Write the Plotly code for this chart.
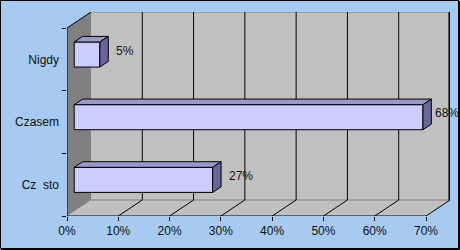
import plotly.graph_objects as go

# ---- data ----
categories = ["Nigdy", "Czasem", "Cz\u00a0\u00a0sto"]   # top to bottom
values = [5, 68, 27]
value_labels = ["5%", "68%", "27%"]
x_ticks = [0, 10, 20, 30, 40, 50, 60, 70]
x_tick_labels = ["0%", "10%", "20%", "30%", "40%", "50%", "60%", "70%"]

# ---- geometry / style ----
W, H = 460, 250
ML, MR, MT, MB = 67, 10, 12, 34
DEPTH_PX_X, DEPTH_PX_Y = 24, 16
XMAX = 70
plot_w = W - ML - MR
plot_h = H - MT - MB
px_x = (plot_w - DEPTH_PX_X) / XMAX
ncat = len(categories)
px_y = (plot_h - DEPTH_PX_Y) / ncat
DX = DEPTH_PX_X / px_x
DY = DEPTH_PX_Y / px_y
F0, F1 = 0.3, 0.65      # bar depth placement (fraction of wall depth)
BAR_H = 0.4

BG = "#A6CAF0"
WALL = "#C0C0C0"
SIDE = "#808080"
FRONT = "#CCCCFF"
TOP = "#9999CC"
RIGHT = "#666699"
FONT = dict(family="Liberation Sans, Arial, sans-serif", size=12, color="#111111")

# category positions bottom -> top
cats_bt = categories[::-1]
vals_bt = values[::-1]
labs_bt = value_labels[::-1]
yc = [i + 0.5 + F0 * DY for i in range(ncat)]
x0 = F0 * DX
bdx, bdy = (F1 - F0) * DX, (F1 - F0) * DY

shapes = []
# back wall
shapes.append(dict(type="rect", xref="x", yref="y", x0=DX, x1=XMAX + DX, y0=DY, y1=ncat + DY,
                   fillcolor=WALL, line=dict(width=0), layer="below"))
# floor
shapes.append(dict(type="path", xref="x", yref="y",
                   path=f"M 0,0 L {XMAX},0 L {XMAX+DX},{DY} L {DX},{DY} Z",
                   fillcolor=WALL, line=dict(width=0), layer="below"))
# side wall
shapes.append(dict(type="path", xref="x", yref="y",
                   path=f"M 0,0 L 0,{ncat} L {DX},{ncat+DY} L {DX},{DY} Z",
                   fillcolor=SIDE, line=dict(width=0), layer="below"))
# back wall top & floor back edge (gray)
shapes.append(dict(type="line", xref="x", yref="y", x0=DX, x1=XMAX + DX, y0=ncat + DY, y1=ncat + DY,
                   line=dict(color=SIDE, width=1), layer="below"))
shapes.append(dict(type="line", xref="x", yref="y", x0=DX, x1=XMAX + DX, y0=DY, y1=DY,
                   line=dict(color=SIDE, width=1), layer="below"))
# gridlines on wall and floor
for t in x_ticks[1:]:
    if t < XMAX:
        shapes.append(dict(type="line", xref="x", yref="y", x0=t + DX, x1=t + DX, y0=DY, y1=ncat + DY,
                           line=dict(color="black", width=1), layer="below"))
    shapes.append(dict(type="line", xref="x", yref="y", x0=t, x1=t + DX, y0=0, y1=DY,
                       line=dict(color="black", width=1), layer="below"))
# right wall edge
shapes.append(dict(type="line", xref="x", yref="y", x0=XMAX + DX - 0.15, x1=XMAX + DX - 0.15, y0=DY, y1=ncat + DY,
                   line=dict(color="black", width=1.5), layer="below"))
# side wall front edges
shapes.append(dict(type="line", xref="x", yref="y", x0=0, x1=0, y0=0, y1=ncat,
                   line=dict(color="black", width=1), layer="below"))
shapes.append(dict(type="line", xref="x", yref="y", x0=0, x1=DX, y0=ncat, y1=ncat + DY,
                   line=dict(color="black", width=1), layer="below"))
# front axis line
shapes.append(dict(type="line", xref="x", yref="y", x0=0, x1=XMAX, y0=0, y1=0,
                   line=dict(color="black", width=1), layer="below"))

# bar top & side faces
for y, v in zip(yc, vals_bt):
    yt, yb = y + BAR_H / 2, y - BAR_H / 2
    x1 = x0 + v
    shapes.append(dict(type="path", xref="x", yref="y",
                       path=f"M {x0},{yt} L {x0+bdx},{yt+bdy} L {x1+bdx},{yt+bdy} L {x1},{yt} Z",
                       fillcolor=TOP, line=dict(color="black", width=1), layer="above"))
    shapes.append(dict(type="path", xref="x", yref="y",
                       path=f"M {x1},{yt} L {x1+bdx},{yt+bdy} L {x1+bdx},{yb+bdy} L {x1},{yb} Z",
                       fillcolor=RIGHT, line=dict(color="black", width=1), layer="above"))

# outer border (paper coords)
def px2paper_x(p):
    return (p - ML) / plot_w
def px2paper_y(p):
    return 1 - (p - MT) / plot_h
shapes.append(dict(type="rect", xref="paper", yref="paper",
                   x0=px2paper_x(0.5), x1=px2paper_x(458.5), y0=px2paper_y(248.5), y1=px2paper_y(0.5),
                   line=dict(color="black", width=1), fillcolor="rgba(0,0,0,0)", layer="above"))
shapes.append(dict(type="line", xref="paper", yref="paper",
                   x0=px2paper_x(459.5), x1=px2paper_x(459.5), y0=px2paper_y(249.5), y1=px2paper_y(1),
                   line=dict(color="black", width=1), layer="above"))
shapes.append(dict(type="line", xref="paper", yref="paper",
                   x0=px2paper_x(1), x1=px2paper_x(459.5), y0=px2paper_y(249.5), y1=px2paper_y(249.5),
                   line=dict(color="black", width=1), layer="above"))

annotations = []
label_max_x = XMAX + DX - 17 / px_x
for y, v, lab in zip(yc, vals_bt, labs_bt):
    lx = min(x0 + v + bdx + 6 / px_x, label_max_x)
    annotations.append(dict(x=lx, y=y - F0 * DY + 0.14, xref="x", yref="y", text=lab,
                            showarrow=False, xanchor="left", yanchor="middle", font=FONT))

fig = go.Figure(go.Bar(
    orientation="h", y=yc, x=vals_bt, base=x0, width=BAR_H,
    marker=dict(color=FRONT, line=dict(color="black", width=1)),
    hoverinfo="skip",
))

fig.update_layout(
    width=W, height=H, margin=dict(l=ML, r=MR, t=MT, b=MB, pad=0),
    paper_bgcolor=BG, plot_bgcolor=BG, showlegend=False,
    shapes=shapes, annotations=annotations, font=FONT,
    xaxis=dict(range=[0, XMAX + DX], tickmode="array", tickvals=x_ticks, ticktext=x_tick_labels,
               ticks="outside", ticklen=4, tickcolor="black", tickwidth=1,
               showgrid=False, zeroline=False, showline=False, fixedrange=True, tickfont=FONT),
    yaxis=dict(range=[0, ncat + DY], tickmode="array",
               tickvals=[i + 0.5 for i in range(ncat)], ticktext=cats_bt,
               ticks="", showgrid=False, zeroline=False, showline=False, fixedrange=True,
               ticklabelstandoff=7, tickfont=FONT,
               minor=dict(tickmode="array", tickvals=list(range(ncat + 1)), ticks="outside",
                          ticklen=4, tickcolor="black", tickwidth=1, showgrid=False)),
)

fig.write_html("out.html")
